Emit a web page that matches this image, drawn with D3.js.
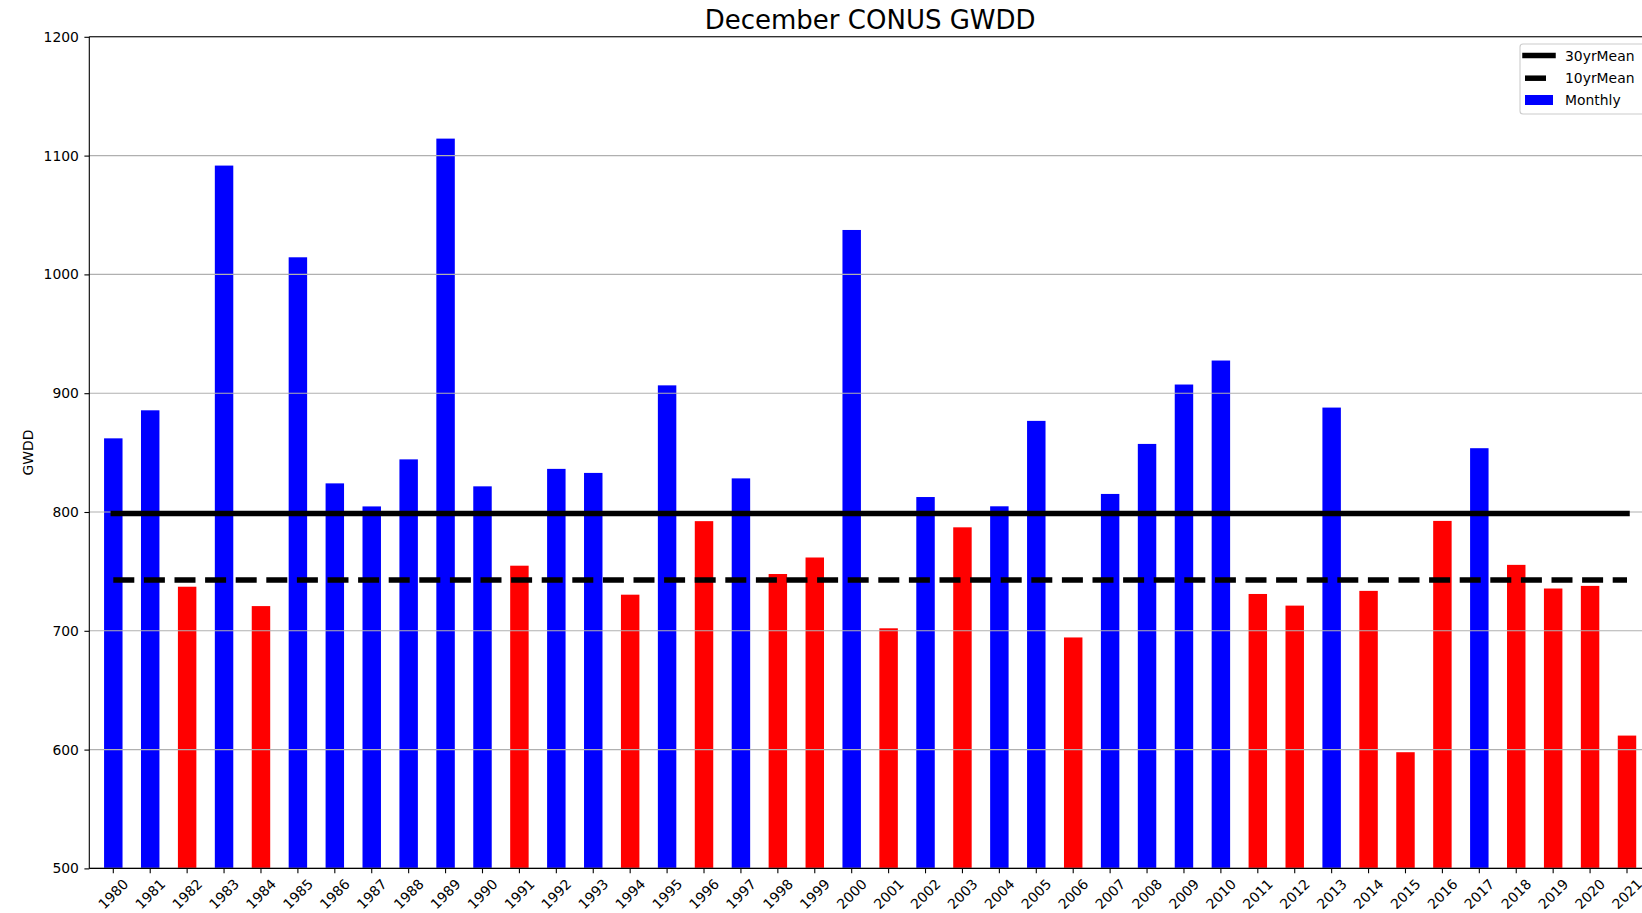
<!DOCTYPE html>
<html>
<head>
<meta charset="utf-8">
<script src="https://cdn.jsdelivr.net/npm/d3@7"></script>
<style>
  html, body { margin: 0; padding: 0; background: #ffffff; }
  svg { display: block; font-family: "DejaVu Sans", sans-serif; }
</style>
</head>
<body>
<svg id="chart" width="1642" height="913"></svg>
<script>
// ---- data ----
const years = ["1980","1981","1982","1983","1984","1985","1986","1987","1988","1989",
               "1990","1991","1992","1993","1994","1995","1996","1997","1998","1999",
               "2000","2001","2002","2003","2004","2005","2006","2007","2008","2009",
               "2010","2011","2012","2013","2014","2015","2016","2017","2018","2019",
               "2020","2021"];
const monthly = [862.0, 885.6, 737.1, 1091.6, 720.8, 1014.4, 824.1, 804.7, 844.3, 1114.3,
                 821.6, 754.8, 836.3, 832.9, 730.4, 906.6, 792.3, 828.3, 747.8, 761.7,
                 1037.4, 702.1, 812.6, 787.1, 804.8, 876.7, 694.4, 815.2, 857.3, 907.3,
                 927.5, 731.0, 721.2, 887.9, 733.6, 597.8, 792.5, 853.7, 755.5, 735.6,
                 737.8, 611.8];
const mean30 = 798.8;
const mean10 = 742.7;
const yTicks = [500, 600, 700, 800, 900, 1000, 1100, 1200];
const legendLabels = ["30yrMean", "10yrMean", "Monthly"];
const titleText = "December CONUS GWDD";
const yLabel = "GWDD";

(function () {
// ---- layout ----
const pL = 89.3, pT = 36.8, pB = 868.4, pR = 1651;
const svg = d3.select("#chart");

const x = d3.scaleBand().domain(years).range([pL, pR])
  .paddingInner(0.5).paddingOuter(0.4);
const y = d3.scaleLinear().domain([500, 1200]).range([pB, pT]);
const cx = d => x(d) + x.bandwidth() / 2;

// bars
svg.append("g").selectAll("rect").data(years).join("rect")
  .attr("x", d => x(d))
  .attr("width", x.bandwidth())
  .attr("y", (d, i) => y(monthly[i]))
  .attr("height", (d, i) => y(500) - y(monthly[i]))
  .attr("fill", (d, i) => monthly[i] >= mean30 ? "#0000ff" : "#ff0000");

// horizontal grid (drawn over bars)
svg.append("g").selectAll("line").data(yTicks).join("line")
  .attr("x1", pL).attr("x2", 1642)
  .attr("y1", d => y(d)).attr("y2", d => y(d))
  .attr("stroke", "#b0b0b0").attr("stroke-width", 1.1);

// mean lines
const meanLine = d3.line().x(d => cx(d[0])).y(d => y(d[1]));
const first = years[0], last = years[years.length - 1];
svg.append("path")
  .attr("d", meanLine([[first, mean30], [last, mean30]]))
  .attr("stroke", "#000").attr("stroke-width", 5.5).attr("fill", "none")
  .attr("stroke-linecap", "square");
svg.append("path")
  .attr("d", meanLine([[first, mean10], [last, mean10]]))
  .attr("stroke", "#000").attr("stroke-width", 5.5).attr("fill", "none")
  .attr("stroke-dasharray", "21 9.6");

// axes
const yAxis = d3.axisLeft(y).tickValues(yTicks).tickSize(4.9).tickPadding(5.5)
  .tickFormat(d3.format("d"));
const gy = svg.append("g").attr("transform", `translate(${pL},0)`).call(yAxis);
gy.select(".domain").remove();
gy.selectAll("line").attr("stroke", "#000").attr("stroke-width", 1.1);
gy.selectAll("text").attr("font-size", "13.9px").attr("fill", "#000")
  .attr("font-family", "DejaVu Sans, sans-serif");

const xAxis = d3.axisBottom(x).tickSize(4.9).tickFormat("");
const gx = svg.append("g").attr("transform", `translate(0,${pB})`).call(xAxis);
gx.select(".domain").remove();
gx.selectAll("line").attr("stroke", "#000").attr("stroke-width", 1.1);

// rotated x labels
svg.append("g").selectAll("text").data(years).join("text")
  .attr("transform", d => `translate(${cx(d)},${pB + 25.5}) rotate(-45)`)
  .attr("text-anchor", "middle")
  .attr("dominant-baseline", "central")
  .attr("font-size", "13.9px")
  .attr("fill", "#000")
  .text(d => d);

// spines
svg.append("line").attr("x1", pL).attr("x2", pL).attr("y1", pT).attr("y2", pB)
  .attr("stroke", "#000").attr("stroke-width", 1.1);
svg.append("line").attr("x1", pL).attr("x2", pR).attr("y1", pB).attr("y2", pB)
  .attr("stroke", "#000").attr("stroke-width", 1.1);
svg.append("line").attr("x1", pL).attr("x2", pR).attr("y1", pT).attr("y2", pT)
  .attr("stroke", "#000").attr("stroke-width", 1.1);

// title & y label
svg.append("text").attr("x", (pL + pR) / 2).attr("y", 29)
  .attr("text-anchor", "middle").attr("font-size", "26px").attr("fill", "#000")
  .text(titleText);
svg.append("text")
  .attr("transform", `translate(28.3,${(pT + pB) / 2}) rotate(-90)`)
  .attr("text-anchor", "middle").attr("dominant-baseline", "central")
  .attr("font-size", "13.9px").attr("fill", "#000")
  .text(yLabel);

// legend
const lg = svg.append("g");
lg.append("rect").attr("x", 1520).attr("y", 44).attr("width", 126).attr("height", 70)
  .attr("rx", 3).attr("fill", "#ffffff").attr("fill-opacity", 0.8)
  .attr("stroke", "#cccccc").attr("stroke-width", 1.1);
const rowY = [55.5, 78.2, 100];
const hx0 = 1525, hx1 = 1553;
lg.append("line").attr("x1", hx0).attr("x2", hx1).attr("y1", rowY[0]).attr("y2", rowY[0])
  .attr("stroke", "#000").attr("stroke-width", 5.5).attr("stroke-linecap", "square");
lg.append("line").attr("x1", hx0).attr("x2", hx1).attr("y1", rowY[1]).attr("y2", rowY[1])
  .attr("stroke", "#000").attr("stroke-width", 5.5).attr("stroke-dasharray", "21 9.6");
lg.append("rect").attr("x", hx0).attr("y", rowY[2] - 5).attr("width", hx1 - hx0).attr("height", 10)
  .attr("fill", "#0000ff");
lg.selectAll("text.lab").data(legendLabels).join("text").attr("class", "lab")
  .attr("x", 1565).attr("y", (d, i) => rowY[i])
  .attr("dominant-baseline", "central")
  .attr("font-size", "13.9px").attr("fill", "#000")
  .text(d => d);
})();
</script>
</body>
</html>
